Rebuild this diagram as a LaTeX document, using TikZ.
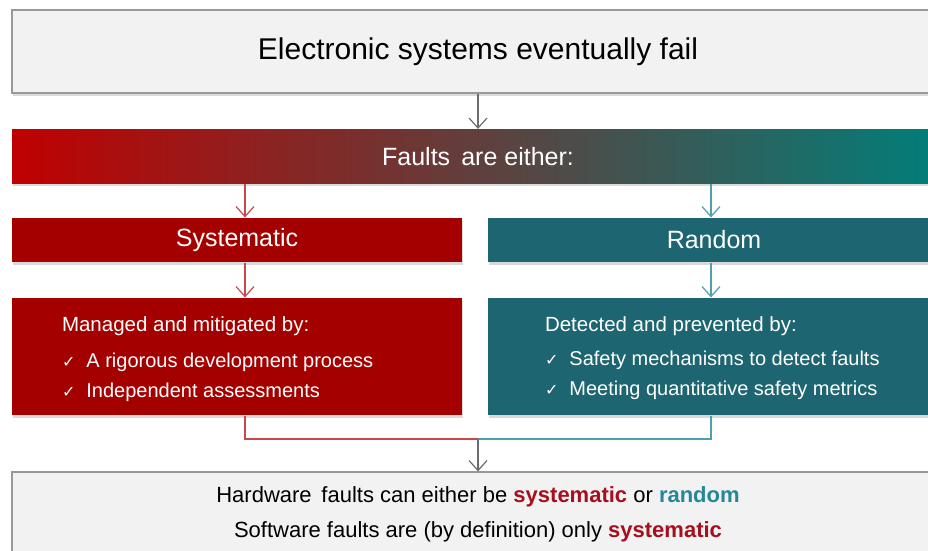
\documentclass[tikz,border=0pt]{standalone}
\usepackage{fontspec}
\setmainfont{Liberation Sans}
\newfontfamily\checkfont{DejaVu Sans}
\usepackage{xcolor}
\usepackage{tikz}
\usetikzlibrary{arrows.meta, positioning, calc, shadows}

\definecolor{boxgrey}{RGB}{242,242,242}
\definecolor{sysred}{RGB}{165,0,0}
\definecolor{randteal}{RGB}{29,101,112}
\definecolor{barred}{RGB}{192,0,0}
\definecolor{barmid}{RGB}{82,62,62}
\definecolor{barteal}{RGB}{0,127,122}
\definecolor{redline}{RGB}{200,72,74}
\definecolor{tealline}{RGB}{78,160,176}
\definecolor{sysword}{RGB}{165,15,30}
\definecolor{randword}{RGB}{38,135,150}

\newcommand{\chkmark}{{\checkfont\fontsize{16}{30}\selectfont ✓}\hspace{11pt}}

\begin{document}
\begin{tikzpicture}
	[x=1pt, y=-1pt, >={Straight Barb[length=10pt, width=18pt]}, line width=1.2pt,
	greybox/.style={rectangle, draw=gray!80, line width=1.2pt, fill=boxgrey, inner sep=0pt,
		drop shadow={shadow xshift=1pt, shadow yshift=-2.5pt, opacity=0.3}},
	colbox/.style={rectangle, inner sep=0pt, text=white,
		drop shadow={shadow xshift=1pt, shadow yshift=-2.5pt, opacity=0.3}},
	garrow/.style={->, draw=gray!85!black},
	rarrow/.style={->, draw=redline},
	tarrow/.style={->, draw=tealline}
	]
	
	\useasboundingbox (0,0) rectangle (928,550);
	
	% Nodes
	\node[greybox, minimum width=932pt, minimum height=83pt, font=\fontsize{30}{36}\selectfont] (fail) at (478,51.5) {Electronic systems eventually fail};
	\node[colbox, left color=barred, middle color=barmid, right color=barteal, minimum width=932pt, minimum height=54pt,
		font=\fontsize{25}{30}\selectfont] (faults) at (478,156.5) {Faults\, are either:};
	\node[colbox, fill=sysred, minimum width=450pt, minimum height=44pt, font=\fontsize{25}{30}\selectfont] (syst) at (237,240) {Systematic};
	\node[colbox, fill=randteal, minimum width=452pt, minimum height=44pt, font=\fontsize{25}{30}\selectfont] (rand) at (714,240) {Random};
	\node[colbox, fill=sysred, minimum width=450pt, minimum height=117pt] (mitig) at (237,356.5) {};
	\node[colbox, fill=randteal, minimum width=452pt, minimum height=117pt] (detect) at (714,356.5) {};
	\node[greybox, minimum width=932pt, minimum height=90pt] (summary) at (478,517) {};
	
	% Texts in the lower boxes
	\node[anchor=north west, inner sep=0pt, text=white, align=left, font=\fontsize{20}{30}\selectfont]
		(mitigtext) at ($(mitig.north west)+(50,19)$)
		{\fontsize{20.5}{30}\selectfont Managed and mitigated by:\\[6pt]
		 \chkmark A rigorous development process\\
		 \chkmark Independent assessments};
	\node[anchor=north west, inner sep=0pt, text=white, align=left, font=\fontsize{20}{30}\selectfont]
		(detecttext) at ($(detect.north west)+(57,19)$)
		{\fontsize{20.5}{30}\selectfont Detected and prevented by:\\[4pt]
		 \chkmark Safety mechanisms to detect faults\\
		 \chkmark Meeting quantitative safety metrics};
	\node[align=center, inner sep=0pt, font=\fontsize{22}{35}\selectfont] (sumtext) at (478,514.5)
		{Hardware\, faults can either be \textcolor{sysword}{\textbf{systematic}} or \textcolor{randword}{\textbf{random}}\\
		 Software faults are (by definition) only \textcolor{sysword}{\textbf{systematic}}};
	
	% Arrows
	\coordinate (redx) at (245,0);
	\coordinate (tealx) at (711,0);
	\coordinate (join) at (478,439);
	\draw[garrow] (fail.south) -- (faults.north);
	\draw[rarrow] (faults.south -| redx) -- (syst.north -| redx);
	\draw[tarrow] (faults.south -| tealx) -- (rand.north -| tealx);
	\draw[rarrow] (syst.south -| redx) -- (mitig.north -| redx);
	\draw[tarrow] (rand.south -| tealx) -- (detect.north -| tealx);
	\draw[draw=redline] (mitig.south -| redx) |- (join);
	\draw[draw=tealline] (detect.south -| tealx) |- (join);
	\draw[garrow] (join) -- (summary.north);
\end{tikzpicture}
\end{document}
